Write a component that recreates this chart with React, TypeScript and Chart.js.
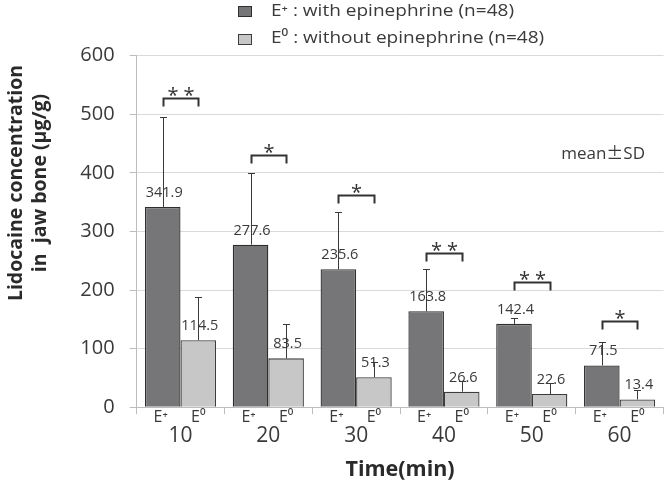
import React, { useEffect, useRef } from "react";
import { Chart, registerables } from "chart.js";

Chart.register(...registerables);

const categories = ["10", "20", "30", "40", "50", "60"];
const withEpiMean = [341.9, 277.6, 235.6, 163.8, 142.4, 71.5];
const withEpiSD = [153.5, 121.4, 97.8, 71.9, 9.2, 40.4];
const withoutEpiMean = [114.5, 83.5, 51.3, 26.6, 22.6, 13.4];
const withoutEpiSD = [73.0, 58.5, 25.9, 18.4, 18.3, 16.1];
const significance = ["**", "*", "*", "**", "**", "*"];
const bracketTop = [528, 430, 363, 264, 214, 148];
const seriesLabels = ["E\u207A : with epinephrine (n=48)", "E\u2070 : without epinephrine (n=48)"];
const barTags = ["E\u207A", "E\u2070"];
const yTitleLines = ["Lidocaine concentration", "in  jaw bone (\u03BCg/g)"];
const xTitle = "Time(min)";
const noteParts = ["mean", "\u00B1", "SD"];

const FONT = "'Open Sans', Lato, sans-serif";
const CJK = "'Noto Sans CJK JP', sans-serif";
const darkFill = "#767679";
const darkBorder = "#2e2e2e";
const lightFill = "#c7c7c7";
const lightBorder = "#3c3c3c";
const textColor = "#3a3a3a";

const overlay = {
  id: "overlay",
  afterDatasetsDraw(chart: any) {
    const ctx = chart.ctx;
    const ys = chart.scales.y;
    const area = chart.chartArea;
    const means = [withEpiMean, withoutEpiMean];
    const sds = [withEpiSD, withoutEpiSD];
    ctx.save();
    for (let d = 0; d < 2; d++) {
      const meta = chart.getDatasetMeta(d);
      meta.data.forEach((bar: any, i: number) => {
        const x = Math.round(bar.x);
        const top = ys.getPixelForValue(means[d][i]);
        const up = Math.round(ys.getPixelForValue(means[d][i] + sds[d][i])) + 0.5;
        ctx.strokeStyle = "#3a3a3a";
        ctx.lineWidth = 1;
        ctx.beginPath();
        ctx.moveTo(x + 0.5, top);
        ctx.lineTo(x + 0.5, up);
        ctx.moveTo(x - 3, up);
        ctx.lineTo(x + 4, up);
        ctx.stroke();
      });
    }
    for (let d = 0; d < 2; d++) {
      const meta = chart.getDatasetMeta(d);
      meta.data.forEach((bar: any, i: number) => {
        const x = bar.x;
        const top = ys.getPixelForValue(means[d][i]);
        ctx.fillStyle = textColor;
        ctx.font = "14.5px " + FONT;
        ctx.textAlign = "center";
        ctx.textBaseline = "alphabetic";
        ctx.fillText(means[d][i].toFixed(1), x + 1.5, top - 10);
        ctx.font = "16px " + FONT;
        ctx.fillText(barTags[d], x - (d === 0 ? 2 : 0), area.bottom + 15);
      });
    }
    const m0 = chart.getDatasetMeta(0);
    const m1 = chart.getDatasetMeta(1);
    categories.forEach((_, i) => {
      const x0 = Math.round(m0.data[i].x) + 0.5;
      const x1 = Math.round(m1.data[i].x) + 0.5;
      const yt = Math.round(ys.getPixelForValue(bracketTop[i])) + 0.5;
      ctx.strokeStyle = "#333";
      ctx.lineWidth = 2;
      ctx.beginPath();
      ctx.moveTo(x0, yt + 8);
      ctx.lineTo(x0, yt);
      ctx.lineTo(x1, yt);
      ctx.lineTo(x1, yt + 8);
      ctx.stroke();
      ctx.fillStyle = "#333";
      ctx.font = "20px " + FONT;
      ctx.textAlign = "center";
      ctx.textBaseline = "alphabetic";
      ctx.fillText(significance[i].split("").join(" "), (x0 + x1) / 2, yt + 3);
    });
    ctx.restore();
  },
  afterDraw(chart: any) {
    const ctx = chart.ctx;
    ctx.save();
    // legend
    const fills = [darkFill, lightFill];
    const borders = [darkBorder, lightBorder];
    const boxTop = [6, 34];
    const baseY = [16, 43];
    ctx.font = "17px " + FONT;
    const stretch = Math.min(1.3, Math.max(1, 243 / ctx.measureText(seriesLabels[0]).width));
    for (let d = 0; d < 2; d++) {
      ctx.fillStyle = fills[d];
      ctx.fillRect(238, boxTop[d], 14, 11);
      ctx.strokeStyle = borders[d];
      ctx.lineWidth = 1;
      ctx.strokeRect(238.5, boxTop[d] + 0.5, 13, 10);
      ctx.fillStyle = textColor;
      ctx.font = "17px " + FONT;
      ctx.textAlign = "left";
      ctx.textBaseline = "alphabetic";
      ctx.save();
      ctx.translate(271, baseY[d]);
      ctx.scale(stretch, 1);
      ctx.fillText(seriesLabels[d], 0, 0);
      ctx.restore();
    }
    // y title
    ctx.fillStyle = "#2a2a2a";
    ctx.font = "bold 19.5px " + FONT;
    ctx.textAlign = "center";
    ctx.textBaseline = "middle";
    const cy = 183;
    [16, 40].forEach((lx, k) => {
      ctx.save();
      ctx.translate(lx, cy);
      ctx.rotate(-Math.PI / 2);
      ctx.fillText(yTitleLines[k], 0, 0);
      ctx.restore();
    });
    // note
    ctx.fillStyle = textColor;
    ctx.textAlign = "left";
    ctx.textBaseline = "alphabetic";
    const fonts = ["17px " + FONT, "17px " + CJK, "17px " + FONT];
    let total = 0;
    noteParts.forEach((p, k) => {
      ctx.font = fonts[k];
      total += ctx.measureText(p).width;
    });
    let nx = 645 - total;
    noteParts.forEach((p, k) => {
      ctx.font = fonts[k];
      ctx.fillText(p, nx, 159);
      nx += ctx.measureText(p).width;
    });
    ctx.restore();
  },
};

export default function App() {
  const ref = useRef<HTMLCanvasElement | null>(null);
  useEffect(() => {
    if (!ref.current) return;
    const chart = new Chart(ref.current, {
      type: "bar",
      data: {
        labels: categories,
        datasets: [
          {
            label: seriesLabels[0],
            data: withEpiMean,
            backgroundColor: darkFill,
            borderColor: darkBorder,
            borderWidth: 1.3,
            categoryPercentage: 0.81,
            barPercentage: 1,
          },
          {
            label: seriesLabels[1],
            data: withoutEpiMean,
            backgroundColor: lightFill,
            borderColor: lightBorder,
            borderWidth: 1.3,
            categoryPercentage: 0.81,
            barPercentage: 1,
          },
        ],
      },
      options: {
        animation: false,
        responsive: true,
        maintainAspectRatio: false,
        layout: { padding: { top: 55.7, right: 0.5, bottom: 0, left: 0 } },
        plugins: { legend: { display: false }, tooltip: { enabled: false } },
        scales: {
          x: {
            grid: {
              display: true,
              drawOnChartArea: false,
              drawTicks: true,
              tickLength: 7,
              offset: true,
              color: "#bdbdbd",
            },
            border: { color: "#bdbdbd" },
            ticks: { font: { family: FONT, size: 21 }, color: textColor, padding: 9 },
            title: {
              display: true,
              text: xTitle,
              font: { family: FONT, size: 21.5, weight: "bold" },
              color: "#2a2a2a",
              padding: { top: 0, bottom: 2 },
            },
            afterFit: (s: any) => {
              s.height = 77.7;
            },
          },
          y: {
            min: 0,
            max: 600,
            ticks: {
              stepSize: 100,
              font: { family: FONT, size: 20 },
              color: textColor,
              padding: 15,
            },
            grid: { color: "#dadada", tickColor: "#bdbdbd", tickLength: 7 },
            border: { color: "#bdbdbd" },
            afterFit: (s: any) => {
              s.width = 136.6;
            },
          },
        },
      },
      plugins: [overlay],
    });
    return () => chart.destroy();
  }, []);
  return (
    <div style={{ position: "fixed", left: 0, top: 0, width: 664, height: 485, background: "#fff" }}>
      <canvas ref={ref} />
    </div>
  );
}
